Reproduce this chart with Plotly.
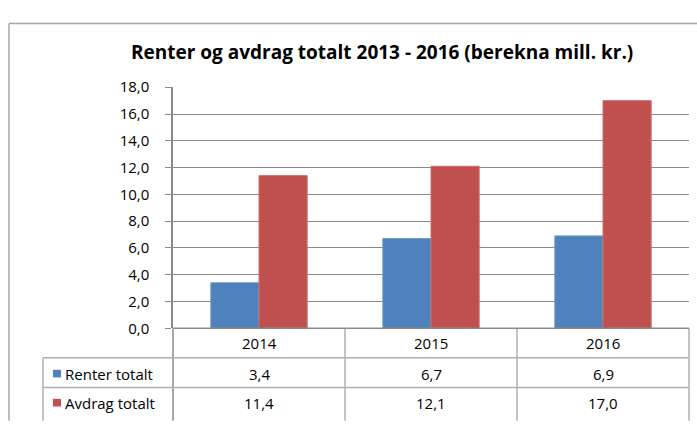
import plotly.graph_objects as go

# ---- data ----
categories = ["2014", "2015", "2016"]
renter_totalt = [3.4, 6.7, 6.9]
avdrag_totalt = [11.4, 12.1, 17.0]
series_names = ["Renter totalt", "Avdrag totalt"]
title_text = "Renter og avdrag totalt 2013 - 2016 (berekna mill. kr.)"
y_max = 18
y_step = 2

W, H = 697, 425
BLUE = "#4F81BD"
RED = "#C0504D"
GRID = "#8a8a8a"
TABLE = "#b0b0b0"
FONT = "Open Sans, Liberation Sans, Arial, sans-serif"

def px(x):
    return x / W

def py(y):
    return 1 - y / H

# plot area in pixels
PL, PR, PT, PB = 173, 689, 80, 333
ROW1, ROW2 = 364, 395
LEG_L = 43
BOTTOM = H + 5

fig = go.Figure()
fig.add_trace(go.Bar(x=categories, y=renter_totalt, name=series_names[0],
                     marker=dict(color=BLUE, line=dict(color="#6f97c8", width=1))))
fig.add_trace(go.Bar(x=categories, y=avdrag_totalt, name=series_names[1],
                     marker=dict(color=RED, line=dict(color="#cc6d6a", width=1))))

fmt = lambda v: f"{v:.1f}".replace(".", ",")

shapes = []
def line(x0, y0, x1, y1, color=TABLE, width=1.5):
    shapes.append(dict(type="line", xref="paper", yref="paper",
                       x0=px(x0), y0=py(y0), x1=px(x1), y1=py(y1),
                       line=dict(color=color, width=width)))

# outer chart frame
line(9, 13, W + 5, 13, color="#a6a6a6", width=1.5)
line(9, 13, 9, BOTTOM, color="#a6a6a6", width=1.5)

# data table grid
ncat = len(categories)
colw = (PR - PL) / ncat
line(PL, PB, PL, BOTTOM, color=GRID, width=1.5)
for i in range(1, ncat):
    line(PL + i * colw, PB, PL + i * colw, BOTTOM)
line(PR, PB, PR, BOTTOM)
line(PL, PB, PR, PB, color=GRID, width=1.5)
line(LEG_L, ROW1, PR, ROW1)
line(LEG_L, ROW2, PR, ROW2)
line(LEG_L, ROW1, LEG_L, BOTTOM)

annotations = []
annotations.append(dict(text=title_text, x=px(381.5), y=py(43), xref="paper", yref="paper",
                        xanchor="center", yanchor="middle", showarrow=False,
                        font=dict(family=FONT, size=19, color="#000000", weight="bold")))

row_y = [(PB + ROW1) / 2, (ROW1 + ROW2) / 2 + 1, (ROW2 + H) / 2 + 1]
for i, c in enumerate(categories):
    cx = PL + (i + 0.5) * colw
    annotations.append(dict(text=c, x=px(cx), y=py(row_y[0]), xref="paper", yref="paper",
                            xanchor="center", yanchor="middle", showarrow=False,
                            font=dict(family=FONT, size=15, color="#000000")))
    for r, vals in enumerate([renter_totalt, avdrag_totalt]):
        annotations.append(dict(text=fmt(vals[i]), x=px(cx), y=py(row_y[r + 1]),
                                xref="paper", yref="paper", xanchor="center", yanchor="middle",
                                showarrow=False, font=dict(family=FONT, size=15, color="#000000")))

for r, (name, col) in enumerate(zip(series_names, [BLUE, RED])):
    yc = row_y[r + 1]
    shapes.append(dict(type="rect", xref="paper", yref="paper",
                       x0=px(53), x1=px(61), y0=py(yc - 4), y1=py(yc + 4),
                       fillcolor=col, line=dict(width=0)))
    annotations.append(dict(text=name, x=px(63), y=py(yc), xref="paper", yref="paper",
                            xanchor="left", yanchor="middle", showarrow=False,
                            font=dict(family=FONT, size=15, color="#000000")))

fig.update_layout(
    width=W, height=H, autosize=False,
    margin=dict(l=0, r=0, t=0, b=0, pad=0),
    paper_bgcolor="white", plot_bgcolor="white",
    separators=",.",
    barmode="group", bargap=0.44, bargroupgap=0,
    showlegend=False,
    shapes=shapes, annotations=annotations,
    xaxis=dict(domain=[px(PL), px(PR)], type="category", categoryorder="array",
               categoryarray=categories, showticklabels=False, ticks="",
               showline=False, showgrid=False, zeroline=False, fixedrange=True),
    yaxis=dict(domain=[py(PB), py(PT)], range=[0, y_max], dtick=y_step, tick0=0,
               tickformat=".1f", showgrid=True, gridcolor=GRID, gridwidth=1,
               ticks="outside", ticklen=6, tickcolor=GRID, tickwidth=1,
               showline=True, linecolor=GRID, linewidth=1.5, zeroline=False,
               ticklabelstandoff=13,
               tickfont=dict(family=FONT, size=15, color="#000000"), fixedrange=True),
)

fig.write_html("out.html", config={"displayModeBar": False},
               post_script="document.body.style.margin='0';")
